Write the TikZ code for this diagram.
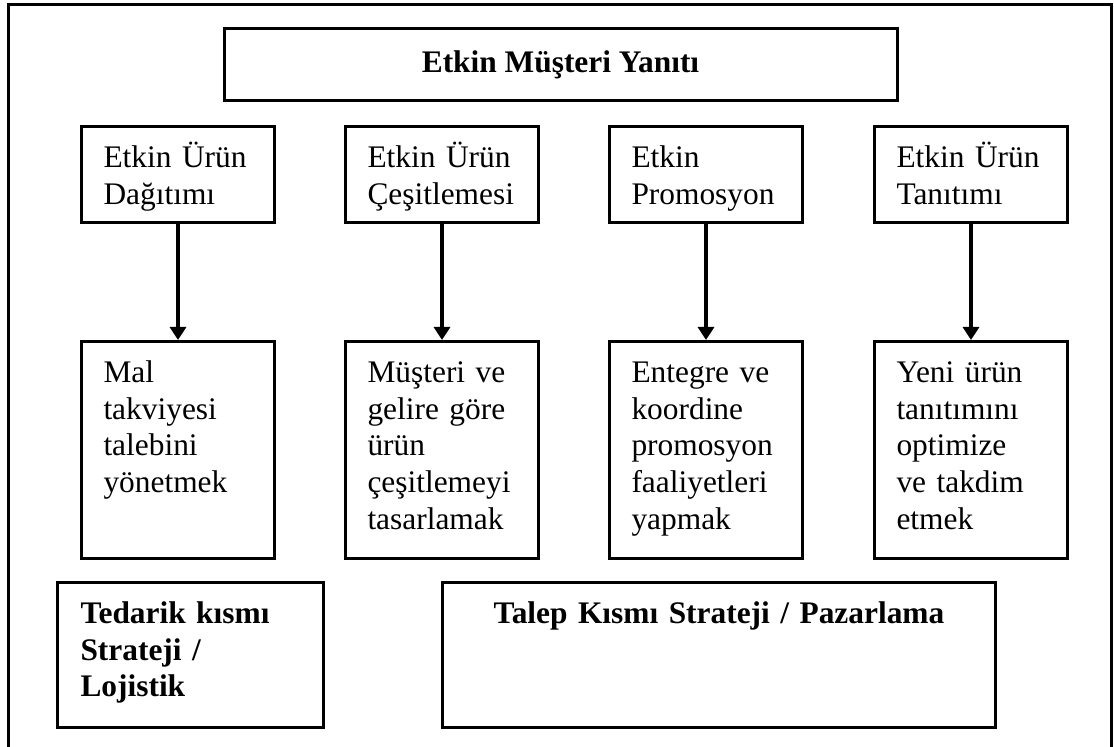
\documentclass[tikz,border=0pt]{standalone}
\usepackage{fontspec}
\setmainfont{Liberation Serif}
\usetikzlibrary{arrows.meta}
\hyphenpenalty=10000

\tikzset{
  kutu/.style={draw, line width=1.5pt, rectangle, anchor=north west,
    inner xsep=11pt, inner ysep=3pt, text width=74.5pt, align=left,
    text height=17.5pt, font=\fontsize{15.7}{18.35}\selectfont},
  ustkutu/.style={kutu, text depth=24.5pt},
  altkutu/.style={kutu, text depth=85pt},
  stratkutu/.style={kutu, text depth=49pt, font=\fontsize{15.7}{18.35}\selectfont\bfseries},
  ok/.style={-{Triangle[length=6.5pt,width=8pt]}, line width=1.6pt}
}

\begin{document}
\begin{tikzpicture}[x=0.5pt,y=-0.5pt]
  \useasboundingbox (0,0) rectangle (1114,747);
  % dis cerceve
  \draw[line width=1.5pt] (8,747) -- (8,5) -- (1111,5) -- (1111,747);
  \node[draw, line width=1.5pt, minimum width=336.5pt, minimum height=36pt,
    font=\fontsize{15.7}{18.35}\selectfont\bfseries] (baslik) at (560.5,65) {Etkin Müşteri Yanıtı};
  % ust satir
  \node[ustkutu] (dagitim) at (80,125) {Etkin Ürün\\Dağıtımı};
  \node[ustkutu] (cesit) at (344,125) {Etkin Ürün\\Çeşitlemesi};
  \node[ustkutu] (promo) at (608,125) {Etkin\\Promosyon};
  \node[ustkutu] (tanitim) at (873,125) {Etkin Ürün\\Tanıtımı};
  % alt satir
  \node[altkutu] (takviye) at (80,340) {Mal\\takviyesi\\talebini\\yönetmek};
  \node[altkutu] (tasarim) at (344,340) {Müşteri ve\\gelire göre\\ürün\\çeşitlemeyi\\tasarlamak};
  \node[altkutu] (entegre) at (608,340) {Entegre ve\\koordine\\promosyon\\faaliyetleri\\yapmak};
  \node[altkutu] (yeniurun) at (873,340) {Yeni ürün\\tanıtımını\\optimize\\ve takdim\\etmek};
  \draw[ok] (dagitim.south) -- (takviye.north);
  \draw[ok] (cesit.south) -- (tasarim.north);
  \draw[ok] (promo.south) -- (entegre.north);
  \draw[ok] (tanitim.south) -- (yeniurun.north);
  % strateji kutulari
  \node[stratkutu, inner xsep=11.5pt, text width=110pt] (tedarik) at (56,581) {Tedarik kısmı\\Strateji /\\Lojistik};
  \node[stratkutu, text width=254.5pt, align=center] (talep) at (441,581) {Talep Kısmı Strateji / Pazarlama};
\end{tikzpicture}
\end{document}
